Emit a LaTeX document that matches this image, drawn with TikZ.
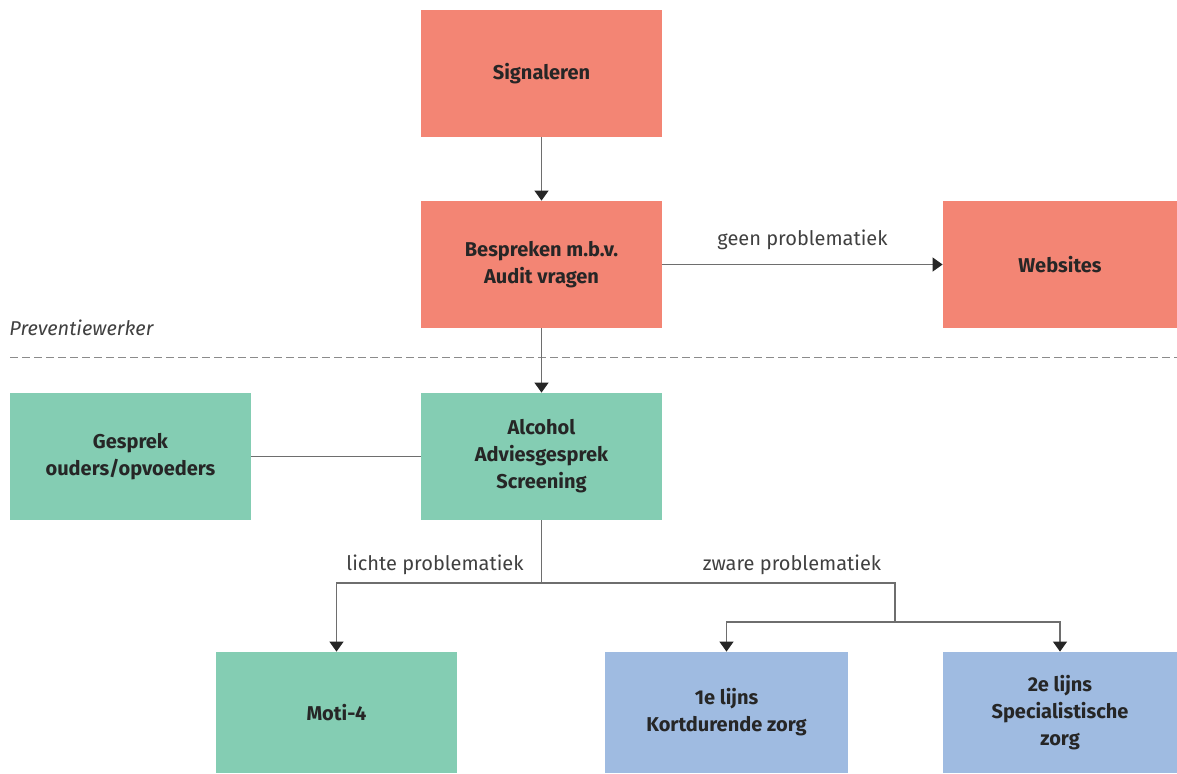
\documentclass[tikz,border=0pt]{standalone}
\usepackage{fontspec}
\setmainfont{Fira Sans}
\usetikzlibrary{arrows.meta,positioning}

\definecolor{zalm}{HTML}{F38574}
\definecolor{mint}{HTML}{84CDB3}
\definecolor{lichtblauw}{HTML}{9FBBE1}
\definecolor{lijn}{HTML}{6E6E6E}

\begin{document}
\begin{tikzpicture}[x=0.5pt,y=-0.5pt,>={Triangle[length=5pt,width=7pt,color=black!85]},font=\fontsize{10}{13.5}\selectfont]
  \tikzstyle{blok}=[rectangle,inner sep=0pt,minimum width=120.5pt,minimum height=63.5pt,align=center,text=black!85,font=\fontsize{10}{13.5}\selectfont\bfseries]
  \tikzstyle{rood}=[blok,fill=zalm]
  \tikzstyle{groen}=[blok,fill=mint]
  \tikzstyle{blauw}=[blok,fill=lichtblauw]
  \tikzstyle{tekst}=[text=black!75,inner sep=0pt]
  \tikzstyle{pijl}=[->,draw=lijn,line width=0.6pt]

  \useasboundingbox (0,0) rectangle (1177,773);

  % boven de lijn
  \node [rood] (sig) at (541.5,73.5) {Signaleren};
  \node [rood] (besp) at (541.5,264.5) {Bespreken m.b.v.\\Audit vragen};
  \node [rood,minimum width=117pt] (web) at (1060,264.5) {Websites};

  \node [tekst,anchor=west,font=\fontsize{10}{12}\selectfont\itshape] (prev) at (9,328) {Preventiewerker};
  \coordinate (streep1) at (10,357);
  \coordinate (streep2) at (1177,357);
  \draw [lijn!80,dash pattern=on 4pt off 2pt,line width=0.5pt] (streep1) -- (streep2);

  % onder de lijn
  \node [groen] (alc) at (541.5,456.5) {Alcohol\\Adviesgesprek\\Screening};
  \node [groen] (gespr) at (130.5,456.5) {Gesprek\\ouders/opvoeders};
  \node [groen,minimum height=60.5pt] (moti) at (336.5,712.5) {Moti-4};
  \node [blauw,minimum width=121.5pt,minimum height=60.5pt] (eerste) at (726.5,712.5) {1e lijns\\Kortdurende zorg};
  \node [blauw,minimum width=117pt,minimum height=60.5pt] (tweede) at (1060,712.5) {2e lijns\\Specialistische\\zorg};

  \draw [pijl] (sig) -- (besp);
  \draw [pijl] (besp) -- node [tekst,above=7pt] (geen) {geen problematiek} (web);
  \draw [pijl] (besp) -- (alc);
  \draw [draw=lijn,line width=0.6pt] (gespr) -- (alc);

  \coordinate (splits) at (541.5,583);
  \coordinate (rechts) at (895,583);
  \coordinate (knik) at (895,622);
  \draw [draw=lijn,line width=0.6pt] (alc) -- (splits) -- (rechts) -- (knik);
  \draw [pijl] (splits) -| (moti);
  \draw [pijl] (knik) -| (eerste);
  \draw [pijl] (knik) -| (tweede);

  \node [tekst] (licht) at (435,565) {lichte problematiek};
  \node [tekst] (zwaar) at (792,565) {zware problematiek};
\end{tikzpicture}
\end{document}
